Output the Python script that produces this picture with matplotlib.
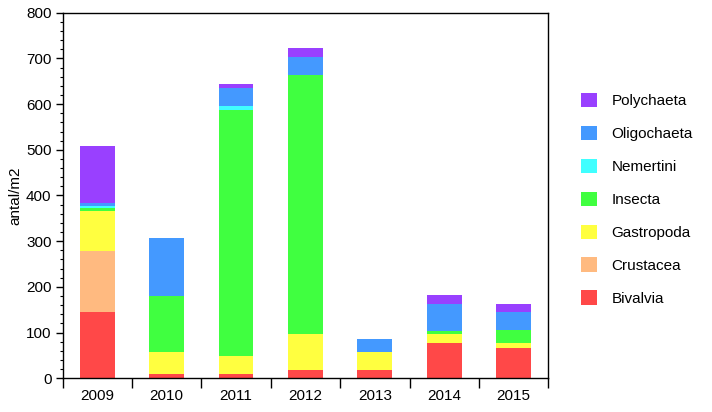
import matplotlib.pyplot as plt
import numpy as np
from matplotlib.patches import Patch
from matplotlib.ticker import MultipleLocator, FixedLocator

plt.rcParams['font.family'] = ['Liberation Sans', 'DejaVu Sans']

# --- Data ---
years = ['2009', '2010', '2011', '2012', '2013', '2014', '2015']
bivalvia = [144, 9, 9, 19, 19, 77, 67]
crustacea = [135, 0, 0, 0, 0, 0, 0]
gastropoda = [88, 48, 40, 77, 39, 19, 10]
insecta = [6, 124, 538, 568, 0, 8, 29]
nemertini = [4, 0, 10, 0, 0, 0, 0]
oligochaeta = [7, 126, 39, 39, 28, 59, 39]
polychaeta = [125, 0, 9, 19, 0, 20, 18]

groups = ['Bivalvia', 'Crustacea', 'Gastropoda', 'Insecta',
          'Nemertini', 'Oligochaeta', 'Polychaeta']
series = [bivalvia, crustacea, gastropoda, insecta,
          nemertini, oligochaeta, polychaeta]
colors = ['#ff4848', '#ffba80', '#ffff40', '#40ff40',
          '#40ffff', '#4499ff', '#9940ff']

fig = plt.figure(figsize=(7.12, 4.12), dpi=100)
ax = fig.add_axes([0.088, 0.082, 0.682, 0.887])

x = np.arange(len(years))
bottom = np.zeros(len(years))
for name, vals, col in zip(groups, series, colors):
    ax.bar(x, vals, width=0.5, bottom=bottom, color=col, label=name, linewidth=0)
    bottom += np.array(vals)

ax.set_xlim(-0.5, len(years) - 0.5)
ax.set_ylim(0, 800)
ax.set_xticks(x)
ax.set_xticklabels(years, fontsize=11)
ax.xaxis.set_minor_locator(FixedLocator(np.arange(-0.5, len(years), 1.0)))
ax.tick_params(axis='x', which='major', length=0, pad=8)
ax.tick_params(axis='x', which='minor', length=7, width=1, direction='out')

ax.yaxis.set_major_locator(MultipleLocator(100))
ax.yaxis.set_minor_locator(MultipleLocator(20))
ax.tick_params(axis='y', which='major', length=5, width=1, labelsize=11, pad=3)
ax.tick_params(axis='y', which='minor', length=2.5, width=0.8)
ax.set_ylabel('antal/m2', fontsize=11, labelpad=3)

for s in ax.spines.values():
    s.set_linewidth(1.0)

handles = [Patch(facecolor=c, label=g) for g, c in zip(groups, colors)]
fig.legend(handles[::-1], groups[::-1], loc='center left',
           bbox_to_anchor=(0.805, 0.516), frameon=False, fontsize=11,
           handlelength=1.05, handleheight=1.05, labelspacing=1.15,
           handletextpad=0.95, borderpad=0)

fig.savefig('out.png', dpi=100)
